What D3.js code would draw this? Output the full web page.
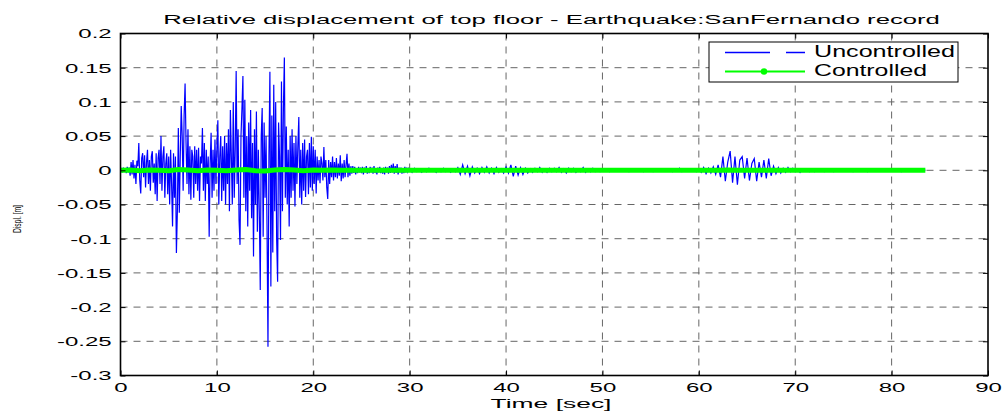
<!DOCTYPE html>
<html><head><meta charset="utf-8">
<script src="https://cdn.jsdelivr.net/npm/d3@7"></script>
<style>
body{margin:0;background:#fff;}
svg{display:block;font-family:"Liberation Sans",Arial,Helvetica,sans-serif;}
</style>
</head><body>
<svg id="chart" width="1004" height="414"></svg>
<script>
const titleText = "Relative displacement of top floor - Earthquake:SanFernando record";
const xLabelText = "Time [sec]";
const yLabelText = "Displ. [m]";
const legendLabels = ["Uncontrolled", "Controlled"];
const xTicks = [0, 10, 20, 30, 40, 50, 60, 70, 80, 90];
const yTicks = [-0.3, -0.25, -0.2, -0.15, -0.1, -0.05, 0, 0.05, 0.1, 0.15, 0.2];

// Uncontrolled response, first part: t = 0 .. 29.9 s, step 0.1 s
const uncontrolledEarlyStep = 0.1;
const uncontrolledEarly = [
 0, 0.002, -0.003, 0.004, -0.002, 0.003, -0.004, 0.005, -0.003, 0.004,
 -0.008, 0.012, -0.006, 0.015, -0.012, 0.008, -0.02, 0.014, 0.006, 0.04,
 -0.015, -0.034, 0.018, 0.025, -0.01, 0.022, -0.025, 0.012, 0.03, -0.02,
 0.015, -0.03, 0.02, 0.028, -0.018, 0.01, -0.035, 0.025, -0.045, 0.018,
 0.03, -0.02, 0.05, -0.03, 0.02, 0.035, -0.04, 0.01, 0.025, -0.035,
 0.02, -0.05, 0.03, -0.02, -0.082, 0.025, -0.04, 0.02, -0.121, -0.06,
 0.062, -0.062, 0.02, 0.094, 0.05, -0.03, 0.08, 0.127, 0.04, -0.02,
 0.06, -0.035, 0.035, -0.043, 0.03, 0.02, -0.04, 0.035, -0.02, 0.03,
 -0.03, 0.033, -0.045, 0.02, 0.01, 0.062, -0.03, 0.04, -0.045, 0.03,
 -0.02, 0.02, -0.097, 0.01, 0.055, -0.04, 0.03, -0.03, 0.045, -0.02,
 0.03, 0.073, -0.05, 0.02, 0.05, -0.045, 0.035, -0.03, 0.05, -0.05,
 0.04, -0.02, 0.06, -0.06, 0.088, 0.02, -0.05, 0.1, -0.04, 0.03,
 0.145, -0.02, 0.06, -0.073, -0.109, 0.05, 0.09, 0.138, -0.04, 0.103,
 -0.06, 0.05, -0.082, 0.07, -0.03, 0.088, -0.07, 0.04, -0.126, 0.06,
 -0.05, 0.086, -0.09, 0.03, -0.06, -0.175, 0.05, 0.091, -0.097, 0.07,
 -0.04, 0.05, -0.08, -0.258, 0.02, 0.144, -0.17, 0.08, -0.12, 0.125,
 -0.06, 0.1, -0.1, -0.163, 0.07, 0.02, -0.102, 0.13, -0.06, 0.09,
 0.165, -0.04, 0.064, -0.05, 0.03, -0.082, 0.05, -0.04, 0.06, -0.03,
 0.04, -0.053, 0.05, -0.02, 0.035, 0.078, -0.04, 0.03, -0.05, 0.04,
 -0.03, 0.045, -0.039, 0.02, 0.03, -0.035, 0.04, -0.025, 0.049, -0.03,
 0.035, -0.02, 0.03, -0.034, 0.02, -0.015, 0.015, -0.019, 0.02, 0.01,
 -0.015, 0.034, -0.01, 0.015, -0.025, -0.042, 0.015, -0.02, 0.012, -0.01,
 0.02, -0.015, 0.012, -0.01, 0.018, -0.012, 0.01, -0.008, 0.022, -0.016,
 0.01, -0.012, 0.015, -0.01, 0.008, 0.024, -0.01, 0.01, -0.008, 0.006,
 -0.005, 0.006, -0.004, 0.005, -0.006, 0.003, -0.004, 0.005, -0.003, 0.004,
 -0.004, 0.005, -0.006, 0.004, -0.003, 0.006, -0.005, 0.003, -0.004, 0.005,
 -0.003, 0.004, -0.005, 0.006, -0.004, 0.003, -0.006, 0.004, -0.003, 0.005,
 -0.004, 0.003, -0.005, 0.004, -0.006, 0.005, -0.003, 0.004, -0.005, 0.006,
 -0.004, 0.008, -0.003, 0.01, -0.005, 0.006, -0.004, 0.009, -0.006, 0.004,
 -0.003, 0.004, -0.005, 0.003, -0.004, 0.005, -0.003, 0.004, -0.002, 0.003
];

// Uncontrolled response, second part: t = 30 .. 83.5 s, step 0.25 s
const uncontrolledLateStart = 30;
const uncontrolledLateStep = 0.25;
const uncontrolledLate = [
 0.002,-0.003,0.003,-0.002,0.001,-0.003,0.002,-0.002,0.003,-0.001, 0.002,-0.003,0.002,-0.002,0.003,-0.002,0.001,-0.003,0.002,-0.002,
 0.004,-0.006,0.008,-0.005,0.006,-0.008,0.005,-0.004,0.003,-0.005, 0.004,-0.003,0.005,-0.004,0.003,-0.005,0.004,-0.003,0.002,-0.004,
 0.005,-0.004,0.008,-0.009,0.006,-0.007,0.004,-0.006,0.003,-0.004, 0.002,-0.003,0.003,-0.002,0.004,-0.003,0.002,-0.003,0.003,-0.002,
 0.003,-0.002,0.004,-0.003,0.002,-0.004,0.003,-0.002,0.003,-0.003, 0.002,-0.002,0.004,-0.003,0.002,-0.002,0.003,-0.002,0.001,-0.002,
 0.002,-0.001,0.001,-0.002,0.002,-0.001,0.001,-0.001,0.002,-0.001, 0.001,-0.002,0.001,-0.001,0.002,-0.001,0.001,-0.002,0.001,-0.001,
 0.001,-0.002,0.002,-0.001,0.001,-0.001,0.002,-0.001,0.001,-0.002, 0.001,-0.001,0.003,-0.002,0.001,-0.001,0.002,-0.001,0.001,-0.002,
 0.002,-0.003,0.004,-0.005,0.003,-0.004,0.005,-0.006,0.008,-0.01, 0.02,-0.016,0.012,0.028,-0.018,0.02,-0.021,0.015,0.02,-0.012,
 0.018,-0.015,0.01,0.017,-0.016,0.012,-0.01,0.015,-0.012,0.017, -0.008,0.006,-0.005,0.004,-0.004,0.003,-0.003,0.004,-0.002,0.003,
 -0.002,0.002,-0.003,0.002,-0.001,0.002,-0.002,0.001,-0.002,0.002, -0.001,0.001,-0.002,0.002,-0.001,0.001,-0.002,0.001,-0.001,0.002,
 -0.001,0.002,-0.001,0.001,-0.002,0.001,-0.001,0.002,-0.001,0.001, -0.002,0.001,-0.001,0.002,-0.001,0.001,-0.001,0.002,-0.001,0.001,
 -0.001,0.002,-0.001,0.001,-0.002,0.001,-0.001,0.001,-0.001,0.002,-0.001,0.001,-0.001,0.001,0
];

// Controlled response: t = 0 .. 83 s, step 1 s, ending at 83.5 s
const controlledStep = 1;
const controlledEnd = 83.5;
const controlled = [
 0, 0.0005, -0.0005, 0.0005, 0, -0.0005, 0.001, 0.0005, -0.0005, 0.0005,
 0, -0.0005, 0.0005, 0.001, -0.0005, -0.001, 0.0005, 0.001, 0.0005, -0.0005,
 0.0005, 0, 0.0005, 0, 0, 0, 0, 0, 0, 0,
 0, 0, 0, 0, 0, 0, 0, 0, 0, 0,
 0, 0, 0, 0, 0, 0, 0, 0, 0, 0,
 0, 0, 0, 0, 0, 0, 0, 0, 0, 0,
 0, 0, 0, 0.0005, 0, 0, 0, 0, 0, 0,
 0, 0, 0, 0, 0, 0, 0, 0, 0, 0,
 0, 0, 0, 0
];

const svg = d3.select("#chart");
const L = 120.5, R = 988, T = 33.5, B = 375.5;
const x = d3.scaleLinear().domain([0, 90]).range([L, R]);
const y = d3.scaleLinear().domain([-0.3, 0.2]).range([B, T]);

const uncPts = uncontrolledEarly.map((v, i) => [i * uncontrolledEarlyStep, v])
  .concat(uncontrolledLate.map((v, i) => [uncontrolledLateStart + i * uncontrolledLateStep, v]));
const ctlPts = controlled.map((v, i) => [i * controlledStep, v]);
ctlPts.push([controlledEnd, controlled[controlled.length - 1]]);

const fmt = d => String(+d.toFixed(2));

function fit(sel, w) {
  const len = sel.node().getComputedTextLength();
  return w / len;
}

// grid
const grid = svg.append("g").attr("stroke", "#666").attr("stroke-width", 1)
  .attr("stroke-dasharray", "7,6").attr("fill", "none");
grid.selectAll("line.vx").data(xTicks.filter(t => t > 0 && t < 90)).join("line")
  .attr("x1", d => x(d)).attr("x2", d => x(d)).attr("y1", T).attr("y2", B);
grid.selectAll("line.hy").data(yTicks.filter(t => t > -0.3 && t < 0.2)).join("line")
  .attr("class", "hy")
  .attr("y1", d => y(d)).attr("y2", d => y(d)).attr("x1", L).attr("x2", R);

// data
svg.append("clipPath").attr("id", "clip").append("rect")
  .attr("x", L).attr("y", T).attr("width", R - L).attr("height", B - T);
const line = d3.line().x(d => x(d[0])).y(d => y(d[1]));
const plot = svg.append("g").attr("clip-path", "url(#clip)");
plot.append("path").datum(uncPts).attr("d", line)
  .attr("fill", "none").attr("stroke", "#0000ff").attr("stroke-width", 1.2);
plot.append("path").datum(ctlPts).attr("d", line)
  .attr("fill", "none").attr("stroke", "#00ff00").attr("stroke-width", 5);

// axes
const tickScaleX = 2.0;
const axB = svg.append("g").attr("transform", `translate(0,${B})`)
  .call(d3.axisBottom(x).tickValues(xTicks).tickSize(-5).tickFormat(fmt));
const axT = svg.append("g").attr("transform", `translate(0,${T})`)
  .call(d3.axisTop(x).tickValues(xTicks).tickSize(-5).tickFormat(""));
const axLft = svg.append("g").attr("transform", `translate(${L},0)`)
  .call(d3.axisLeft(y).tickValues(yTicks).tickSize(-5).tickFormat(fmt));
const axRt = svg.append("g").attr("transform", `translate(${R},0)`)
  .call(d3.axisRight(y).tickValues(yTicks).tickSize(-5).tickFormat(""));
[axB, axT, axLft, axRt].forEach(a => {
  a.select(".domain").remove();
  a.selectAll(".tick line").attr("stroke", "#000").attr("stroke-width", 1);
});
axB.selectAll(".tick text").attr("font-size", 12).attr("font-family", null)
  .attr("fill", "#000").attr("y", 16.2).attr("dy", "0")
  .attr("transform", `scale(${tickScaleX},1)`);
axLft.selectAll(".tick text").attr("font-size", 12).attr("font-family", null)
  .attr("fill", "#000").attr("x", -8.8 / tickScaleX).attr("dy", "0.36em")
  .attr("transform", `scale(${tickScaleX},1)`);

// box
svg.append("rect").attr("x", L).attr("y", T).attr("width", R - L).attr("height", B - T)
  .attr("fill", "none").attr("stroke", "#000").attr("stroke-width", 1.6);

// title
const title = svg.append("text").attr("text-anchor", "middle").attr("font-size", 12)
  .text(titleText);
title.attr("transform", `translate(551.5,23.5) scale(${fit(title, 777)},1)`);

// x label
const xl = svg.append("text").attr("text-anchor", "middle").attr("font-size", 13)
  .text(xLabelText);
xl.attr("transform", `translate(551,408) scale(${fit(xl, 121)},1)`);

// y label
const yl = svg.append("text").attr("text-anchor", "middle").attr("font-size", 11)
  .text(yLabelText);
yl.attr("transform", `translate(21,219) rotate(-90) scale(${fit(yl, 28)},1)`);

// legend
const lg = svg.append("g");
lg.append("rect").attr("x", 709).attr("y", 42).attr("width", 249).attr("height", 40)
  .attr("fill", "#fff").attr("stroke", "#000").attr("stroke-width", 1);
lg.append("line").attr("x1", 725).attr("x2", 805).attr("y1", 52.5).attr("y2", 52.5)
  .attr("stroke", "#0000ff").attr("stroke-width", 1.4).attr("stroke-dasharray", "45,16,19");
lg.append("line").attr("x1", 725).attr("x2", 805).attr("y1", 71.5).attr("y2", 71.5)
  .attr("stroke", "#00ff00").attr("stroke-width", 2);
lg.append("circle").attr("cx", 764).attr("cy", 71.5).attr("r", 3.2).attr("fill", "#00ff00");
const lt1 = lg.append("text").attr("font-size", 16).text(legendLabels[0]);
lt1.attr("transform", `translate(814,57.3) scale(${fit(lt1, 141)},1)`);
const lt2 = lg.append("text").attr("font-size", 16).text(legendLabels[1]);
lt2.attr("transform", `translate(814,76) scale(${fit(lt2, 113)},1)`);
</script>
</body></html>
